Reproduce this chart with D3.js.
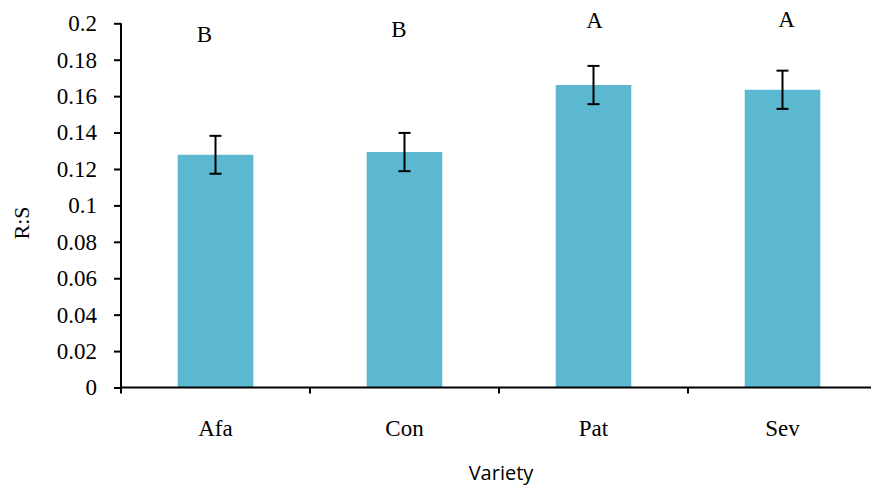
<!DOCTYPE html>
<html>
<head>
<meta charset="utf-8">
<script src="https://cdn.jsdelivr.net/npm/d3@7/dist/d3.min.js"></script>
<style>
  html, body { margin: 0; padding: 0; background: #fff; }
  svg { display: block; }
  .serif { font-family: "Liberation Serif", "DejaVu Serif", serif; }
  .sans { font-family: "Open Sans", "Liberation Sans", sans-serif; }
</style>
</head>
<body>
<svg id="chart" width="871" height="488"></svg>
<script>
// Root-to-shoot ratio by variety
const varieties = ["Afa", "Con", "Pat", "Sev"];
const ratio = [0.1278, 0.1293, 0.1661, 0.1635];
const stdErr = [0.0104, 0.0105, 0.0105, 0.0105];
const groups = ["B", "B", "A", "A"];
const yTicks = [0, 0.02, 0.04, 0.06, 0.08, 0.1, 0.12, 0.14, 0.16, 0.18, 0.2];

(function () {
const svg = d3.select("#chart");
const plotLeft = 121, plotRight = 877, plotTop = 23.3, plotBottom = 387.5;

const x = d3.scaleBand().domain(varieties).range([plotLeft, plotRight]).paddingInner(0.6).paddingOuter(0.3);
const y = d3.scaleLinear().domain([0, 0.2]).range([plotBottom, plotTop]);

// Letter annotations are free-standing text boxes: offsets from bar centre
const letterDx = [-11, -5.5, 1, 4];
const letterBaseline = [42.3, 37.3, 28.3, 27.3];

// Bars
svg.append("g").selectAll("rect").data(varieties).join("rect")
  .attr("x", d => x(d))
  .attr("width", x.bandwidth())
  .attr("y", (d, i) => y(ratio[i]))
  .attr("height", (d, i) => y(0) - y(ratio[i]))
  .attr("fill", "#5bb8d0");

// Error bars
const eb = svg.append("g").attr("stroke", "#000").attr("stroke-width", 2);
varieties.forEach((d, i) => {
  const cx = x(d) + x.bandwidth() / 2;
  const hi = y(ratio[i] + stdErr[i]), lo = y(ratio[i] - stdErr[i]);
  eb.append("line").attr("x1", cx).attr("x2", cx).attr("y1", hi).attr("y2", lo);
  eb.append("line").attr("x1", cx - 6).attr("x2", cx + 6).attr("y1", hi).attr("y2", hi);
  eb.append("line").attr("x1", cx - 6).attr("x2", cx + 6).attr("y1", lo).attr("y2", lo);
});

// Y axis
const yAxis = svg.append("g").attr("transform", `translate(${plotLeft},0)`)
  .call(d3.axisLeft(y).tickValues(yTicks).tickSize(7).tickPadding(17)
    .tickFormat(d => String(+d.toFixed(2))));
yAxis.attr("font-family", null).attr("font-size", null);
yAxis.select(".domain").attr("d", `M0,${plotTop}V${plotBottom + 6}`).attr("stroke-width", 2);
yAxis.selectAll(".tick line").attr("stroke-width", 2);
yAxis.selectAll("text").attr("class", "serif").style("font-size", "23px").attr("fill", "#000");

// X axis with ticks on category boundaries
const step = x.step();
const xAxis = svg.append("g").attr("transform", `translate(0,${plotBottom})`);
xAxis.append("line").attr("x1", plotLeft).attr("x2", plotRight + 2).attr("stroke", "#000").attr("stroke-width", 2);
d3.range(1, varieties.length + 1).forEach(k => {
  xAxis.append("line").attr("x1", plotLeft + k * step).attr("x2", plotLeft + k * step)
    .attr("y1", 0).attr("y2", 6).attr("stroke", "#000").attr("stroke-width", 2);
});
xAxis.selectAll("text").data(varieties).join("text")
  .attr("class", "serif")
  .attr("x", d => x(d) + x.bandwidth() / 2)
  .attr("y", 48)
  .attr("text-anchor", "middle")
  .style("font-size", "23px")
  .text(d => d);

// Significance letters
svg.append("g").selectAll("text").data(varieties).join("text")
  .attr("class", "serif")
  .attr("x", (d, i) => x(d) + x.bandwidth() / 2 + letterDx[i])
  .attr("y", (d, i) => letterBaseline[i])
  .attr("text-anchor", "middle")
  .style("font-size", "23px")
  .text((d, i) => groups[i]);

// Axis titles
svg.append("text").attr("class", "sans").attr("x", 501).attr("y", 480).attr("text-anchor", "middle")
  .style("font-size", "20px")
  .text("Variety");
svg.append("text").attr("class", "serif").attr("transform", "translate(29,223) rotate(-90)").attr("text-anchor", "middle")
  .style("font-size", "22px")
  .text("R:S");
})();
</script>
</body>
</html>
